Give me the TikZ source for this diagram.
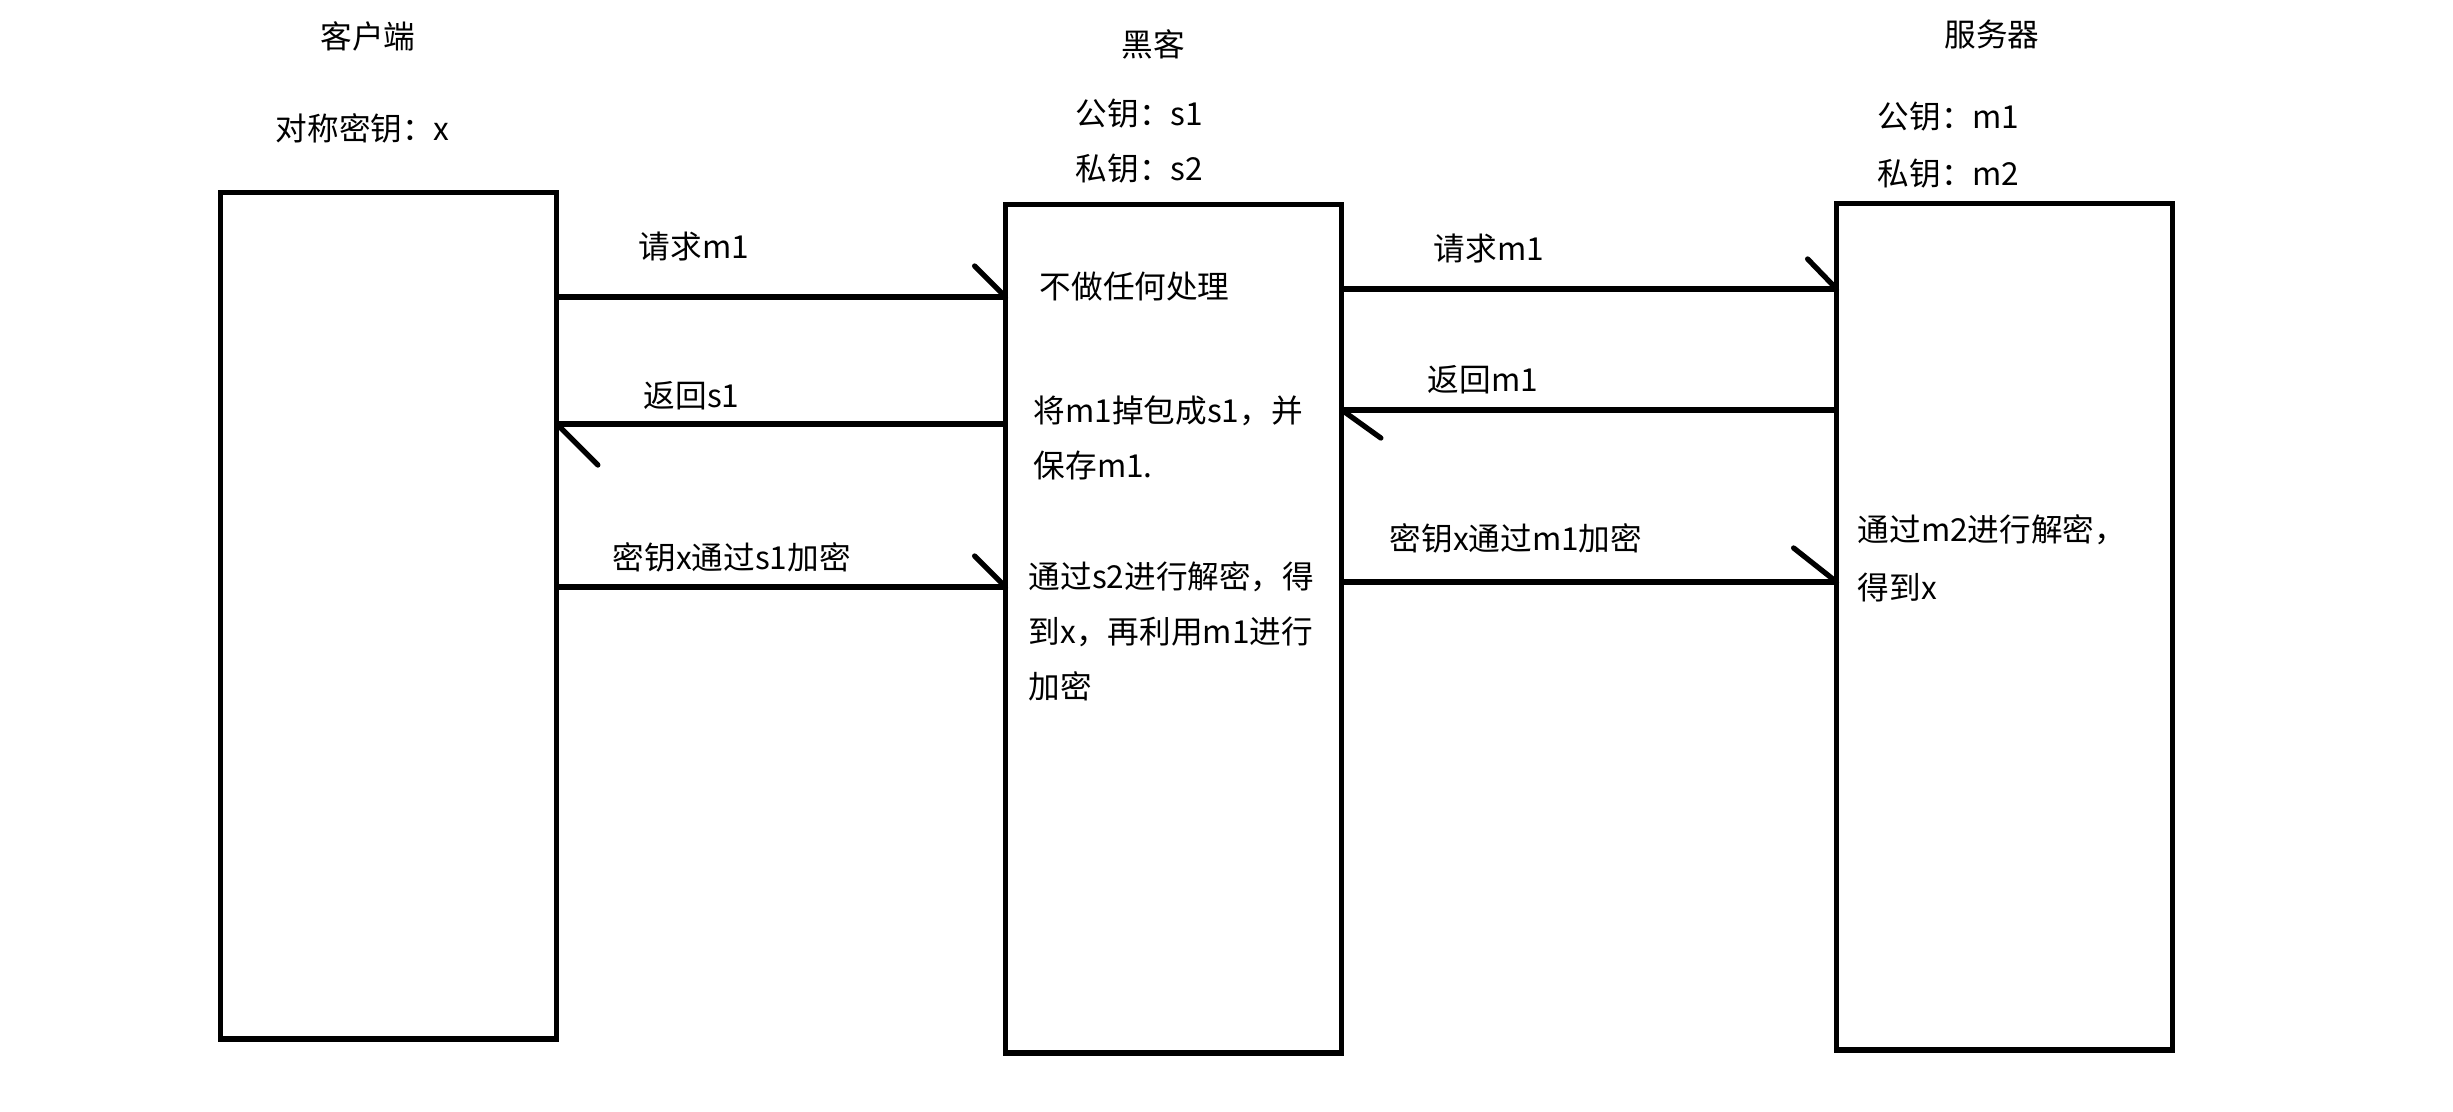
\documentclass[tikz,border=0pt]{standalone}
\usepackage{fontspec}
\setmainfont{Noto Sans CJK SC}
\usetikzlibrary{arrows.meta}
\begin{document}
\begin{tikzpicture}[x=0.01cm,y=-0.01cm,
  every node/.style={font=\fontsize{9pt}{15.6pt}\selectfont, inner sep=0pt},
  party/.style={draw, line width=1.5pt, minimum width=3.36cm, minimum height=8.46cm, anchor=north west},
  msg/.style 2 args={line width=1.5pt, shorten >=-1.5pt, -{Straight Barb[left, round, length=#1, width=#2]}},
  lbl/.style={anchor=west},
  note/.style={anchor=west, align=left}
]
\useasboundingbox (0,0) rectangle (2453,1112);

% parties
\node[party] (client) at (218,190) {};
\node[party, minimum height=8.48cm] (hacker) at (1003,202) {};
\node[party] (server) at (1834,201) {};

% headings
\node (tc) at (368,36) {客户端};
\node[lbl] (tck) at (275,128) {对称密钥：x};
\node (th) at (1153,44) {黑客};
\node[lbl] (thp) at (1075,114) {公钥：s1};
\node[lbl] (ths) at (1075,169) {私钥：s2};
\node (ts) at (1992,34) {服务器};
\node[lbl] (tsp) at (1877,117) {公钥：m1};
\node[lbl] (tss) at (1877,174) {私钥：m2};

% message heights
\coordinate (y1) at (0,297);
\coordinate (y2) at (0,424);
\coordinate (y3) at (0,587);
\coordinate (y4) at (0,289);
\coordinate (y5) at (0,410);
\coordinate (y6) at (0,582);

% messages
\draw[msg={0.31cm}{0.62cm}] (client.east |- y1) -- (hacker.west |- y1);
\draw[msg={0.41cm}{0.82cm}] (hacker.west |- y2) -- (client.east |- y2);
\draw[msg={0.31cm}{0.62cm}] (client.east |- y3) -- (hacker.west |- y3);
\draw[msg={0.29cm}{0.6cm}] (hacker.east |- y4) -- (server.west |- y4);
\draw[msg={0.39cm}{0.56cm}] (server.west |- y5) -- (hacker.east |- y5);
\draw[msg={0.43cm}{0.68cm}] (hacker.east |- y6) -- (server.west |- y6);

% message labels
\node[lbl] (l1) at (638,247) {请求m1};
\node[lbl] (l2) at (643,396) {返回s1};
\node[lbl] (l3) at (612,557) {密钥x通过s1加密};
\node[lbl] (l4) at (1433,249) {请求m1};
\node[lbl] (l5) at (1427,380) {返回m1};
\node[lbl] (l6) at (1389,538) {密钥x通过m1加密};

% notes
\node[lbl] (n1) at (1039,286) {不做任何处理};
\node[note] (n2) at (1033,438) {将m1掉包成s1，并\\保存m1.};
\node[note] (n3) at (1028,631) {通过s2进行解密，得\\到x，再利用m1进行\\加密};
\node[note, font=\fontsize{9pt}{16.4pt}\selectfont] (n4) at (1857,558) {通过m2进行解密，\\得到x};
\end{tikzpicture}
\end{document}
